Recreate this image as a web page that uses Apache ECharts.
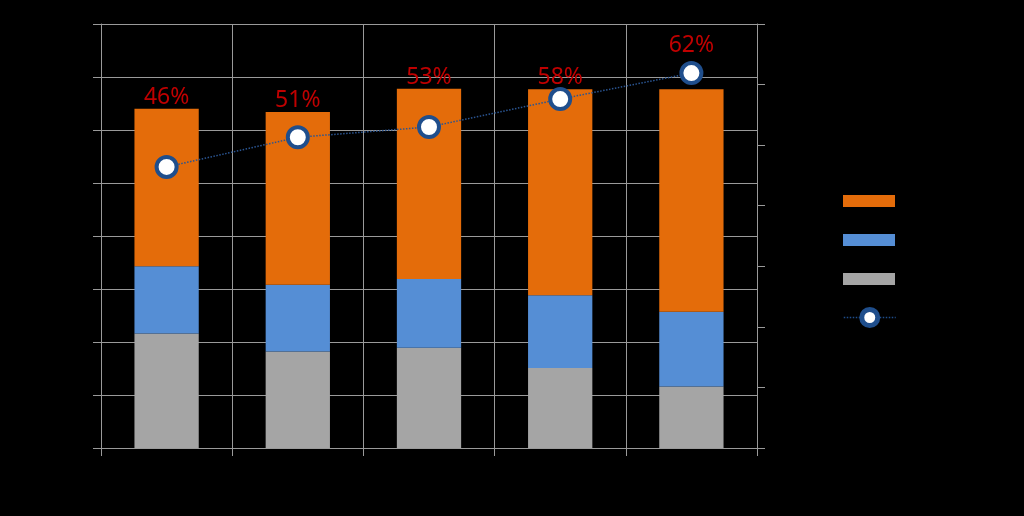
<!DOCTYPE html>
<html>
<head>
<meta charset="utf-8">
<script src="https://cdn.jsdelivr.net/npm/echarts@6/dist/echarts.min.js"></script>
<style>
html,body{margin:0;padding:0;background:#000;}
#chart{width:1024px;height:516px;}
</style>
</head>
<body>
<div id="chart"></div>
<script>
// Data
var categories = ['2014', '2015', '2016', '2017', '2018'];
var seriesNames = ['항목 A', '항목 B', '항목 C', '비율'];
var grayValues = [216, 182, 189, 151, 116];
var blueValues = [127, 126, 130, 137, 141];
var orangeValues = [297, 326, 359, 389, 420];
var rateValues = [0.464, 0.513, 0.530, 0.576, 0.619];
var leftTicks = [0, 100, 200, 300, 400, 500, 600, 700, 800];
var rightTicks = [0, 0.1, 0.2, 0.3, 0.4, 0.5, 0.6, 0.7];

var leftMax = leftTicks[leftTicks.length - 1];
var rightMax = rightTicks[rightTicks.length - 1];
function pct(v) { return Math.round(v * 100) + '%'; }

var labelStyle = {
  color: '#c00000',
  fontSize: 23,
  fontFamily: 'Noto Sans',
  formatter: function (p) { return pct(rateValues[p.dataIndex]); }
};

// label goes above whichever mark (bar top or point) is higher
var labelOnBar = categories.map(function (c, i) {
  var total = grayValues[i] + blueValues[i] + orangeValues[i];
  return total / leftMax >= rateValues[i] / rightMax;
});

var orangeData = orangeValues.map(function (v, i) {
  return { value: v, label: { show: labelOnBar[i] } };
});
var rateData = rateValues.map(function (v, i) {
  return { value: v, label: { show: !labelOnBar[i] } };
});

var gridColor = '#9a9a9a';
var lineBlue = '#1f4e8c';
var chart = echarts.init(document.getElementById('chart'), null, { renderer: 'canvas' });
chart.setOption({
  backgroundColor: '#000',
  animation: false,
  grid: { left: 101, right: 267, top: 24, bottom: 68 },
  legend: [
    {
      orient: 'vertical',
      left: 843,
      top: 194,
      padding: 0,
      itemWidth: 52,
      itemHeight: 12,
      itemGap: 25,
      icon: 'rect',
      textStyle: { color: '#000', fontSize: 14 },
      data: seriesNames.slice(0, 3)
    },
    {
      orient: 'vertical',
      left: 843,
      top: 307,
      padding: 0,
      itemWidth: 52,
      itemHeight: 20,
      textStyle: { color: '#000', fontSize: 14 },
      lineStyle: { color: lineBlue, width: 1.5, type: 'dotted' },
      itemStyle: { color: '#ffffff', borderColor: lineBlue, borderWidth: 5 },
      data: seriesNames.slice(3)
    }
  ],
  xAxis: {
    type: 'category',
    data: categories,
    boundaryGap: true,
    axisLine: { show: true, lineStyle: { color: gridColor, width: 1 } },
    axisTick: { show: true, length: 8, lineStyle: { color: gridColor } },
    axisLabel: { color: '#000' },
    splitLine: { show: true, lineStyle: { color: gridColor, width: 1 } }
  },
  yAxis: [
    {
      type: 'value',
      min: leftTicks[0], max: leftMax, interval: leftTicks[1] - leftTicks[0],
      axisLine: { show: true, lineStyle: { color: gridColor } },
      axisTick: { show: true, length: 8, lineStyle: { color: gridColor } },
      axisLabel: { color: '#000' },
      splitLine: { show: true, lineStyle: { color: gridColor, width: 1 } }
    },
    {
      type: 'value',
      position: 'right',
      min: rightTicks[0], max: rightMax, interval: rightTicks[1] - rightTicks[0],
      axisLine: { show: true, lineStyle: { color: gridColor } },
      axisTick: { show: true, length: 8, lineStyle: { color: gridColor } },
      axisLabel: { color: '#000', formatter: function (v) { return pct(v); } },
      splitLine: { show: false }
    }
  ],
  series: [
    {
      name: seriesNames[2], type: 'bar', stack: 'total', barWidth: '49%',
      itemStyle: { color: '#a5a5a5' }, data: grayValues
    },
    {
      name: seriesNames[1], type: 'bar', stack: 'total',
      itemStyle: { color: '#558ed5' }, data: blueValues
    },
    {
      name: seriesNames[0], type: 'bar', stack: 'total',
      itemStyle: { color: '#e46c0a' },
      label: Object.assign({ position: 'top', distance: 0 }, labelStyle),
      data: orangeData
    },
    {
      name: seriesNames[3], type: 'line', yAxisIndex: 1, z: 5,
      symbol: 'circle', symbolSize: 20,
      lineStyle: { color: '#2a5592', width: 1.5, type: 'dotted' },
      itemStyle: { color: '#ffffff', borderColor: lineBlue, borderWidth: 4 },
      label: Object.assign({ position: 'top', distance: 4 }, labelStyle),
      data: rateData
    }
  ]
});
</script>
</body>
</html>
